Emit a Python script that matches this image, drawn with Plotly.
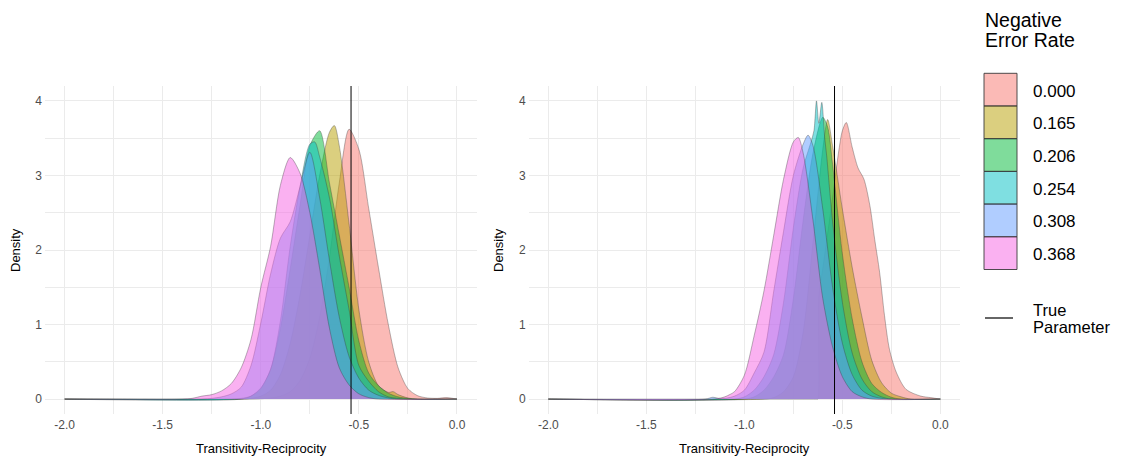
import plotly.graph_objects as go

# ---------------- data ----------------
RATES = ["0.000", "0.165", "0.206", "0.254", "0.308", "0.368"]
COLORS = ["#F8766D", "#B79F00", "#00BA38", "#00BFC4", "#619CFF", "#F564E3"]
TRUE_PARAM = -0.54
X_TICKS = [-2.0, -1.5, -1.0, -0.5, 0.0]
X_TICK_LABELS = ["-2.0", "-1.5", "-1.0", "-0.5", "0.0"]
Y_TICKS = [0, 1, 2, 3, 4]
Y_TICK_LABELS = ["0", "1", "2", "3", "4"]
X_TITLE = "Transitivity-Reciprocity"
Y_TITLE = "Density"

# left panel densities
left_x_000 = [-2.0, -1.05, -1.0, -0.95, -0.9, -0.85, -0.8, -0.75, -0.7, -0.65, -0.6, -0.55, -0.5, -0.45, -0.4, -0.35, -0.3, -0.25, -0.2, -0.15, -0.1, -0.05, 0.0]
left_d_000 = [0, 0, 0.005, 0.015, 0.04, 0.1, 0.25, 0.55, 1.1, 1.9, 2.9, 3.62, 3.35, 2.56, 1.76, 1.0, 0.42, 0.14, 0.045, 0.015, 0.01, 0.02, 0]
left_x_165 = [-2.0, -1.1, -1.05, -1.0, -0.95, -0.9, -0.85, -0.8, -0.75, -0.7, -0.65, -0.625, -0.6, -0.55, -0.5, -0.45, -0.4, -0.35, -0.325, -0.3, -0.25, -0.2, 0.0]
left_d_165 = [0, 0, 0.01, 0.04, 0.12, 0.33, 0.75, 1.4, 2.2, 3.0, 3.58, 3.67, 3.4, 2.35, 1.2, 0.5, 0.18, 0.09, 0.1, 0.06, 0.015, 0, 0]
left_x_206 = [-2.0, -1.15, -1.1, -1.05, -1.0, -0.95, -0.9, -0.85, -0.8, -0.75, -0.7, -0.65, -0.6, -0.55, -0.5, -0.45, -0.4, -0.35, -0.3, -0.25, -0.2, 0.0]
left_d_206 = [0, 0, 0.01, 0.04, 0.14, 0.4, 0.95, 1.75, 2.6, 3.4, 3.6, 2.9, 2.2, 1.5, 0.78, 0.35, 0.18, 0.08, 0.03, 0.01, 0, 0]
left_x_254 = [-2.0, -1.1, -1.05, -1.0, -0.95, -0.9, -0.85, -0.8, -0.75, -0.725, -0.7, -0.65, -0.6, -0.55, -0.5, -0.45, -0.4, -0.35, -0.3, -0.25, 0.0]
left_d_254 = [0, 0, 0.04, 0.15, 0.4, 1.05, 2.05, 2.85, 3.42, 3.45, 3.25, 2.7, 1.92, 1.2, 0.45, 0.24, 0.1, 0.03, 0.01, 0, 0]
left_x_308 = [-2.0, -1.3, -1.25, -1.2, -1.15, -1.1, -1.05, -1.0, -0.95, -0.9, -0.85, -0.8, -0.75, -0.7, -0.65, -0.6, -0.55, -0.5, -0.45, -0.4, -0.35, -0.3, 0.0]
left_d_308 = [0, 0, 0.01, 0.03, 0.07, 0.16, 0.45, 1.02, 1.68, 2.16, 2.38, 2.85, 3.31, 2.7, 1.86, 1.1, 0.57, 0.28, 0.12, 0.05, 0.015, 0, 0]
left_x_368 = [-2.0, -1.4, -1.35, -1.3, -1.25, -1.2, -1.15, -1.1, -1.05, -1.0, -0.95, -0.9, -0.85, -0.8, -0.75, -0.7, -0.65, -0.6, -0.55, -0.5, -0.45, -0.4, 0.0]
left_d_368 = [0, 0, 0.01, 0.04, 0.06, 0.11, 0.21, 0.42, 0.8, 1.5, 2.05, 2.87, 3.24, 3.03, 2.5, 1.75, 0.95, 0.42, 0.19, 0.07, 0.02, 0, 0]

# right panel densities
right_x_000 = [-2.0, -0.7, -0.66, -0.64, -0.63, -0.625, -0.62, -0.6, -0.55, -0.52, -0.5, -0.48, -0.45, -0.42, -0.39, -0.36, -0.335, -0.31, -0.285, -0.26, -0.225, -0.175, -0.1, -0.05, 0.0]
right_d_000 = [0, 0, 0, 0, 0, 0, 1.38, 1.75, 2.7, 3.3, 3.6, 3.71, 3.38, 3.1, 2.95, 2.6, 2.14, 1.7, 1.12, 0.67, 0.36, 0.13, 0.04, 0.02, 0]
right_x_165 = [-2.0, -0.9, -0.85, -0.8, -0.75, -0.7, -0.65, -0.6, -0.575, -0.55, -0.5, -0.45, -0.4, -0.35, -0.3, -0.25, -0.2, -0.15, 0.0]
right_d_165 = [0, 0, 0.02, 0.1, 0.3, 0.9, 2.1, 3.35, 3.75, 3.4, 2.55, 1.77, 1.1, 0.52, 0.22, 0.08, 0.03, 0, 0]
right_x_206 = [-2.0, -1.0, -0.95, -0.9, -0.85, -0.8, -0.75, -0.7, -0.65, -0.6, -0.575, -0.55, -0.5, -0.45, -0.4, -0.35, -0.3, -0.25, -0.2, 0.0]
right_d_206 = [0, 0, 0.03, 0.12, 0.3, 0.6, 1.35, 2.4, 3.3, 3.78, 3.65, 3.15, 1.95, 1.08, 0.5, 0.21, 0.09, 0.025, 0, 0]
right_x_254 = [-2.0, -1.05, -1.0, -0.95, -0.9, -0.85, -0.8, -0.75, -0.7, -0.66, -0.645, -0.632, -0.62, -0.605, -0.59, -0.58, -0.55, -0.5, -0.45, -0.4, -0.35, -0.3, -0.25, 0.0]
right_d_254 = [0, 0, 0.03, 0.12, 0.3, 0.6, 1.3, 2.3, 3.1, 3.45, 3.6, 4.0, 3.7, 3.98, 3.5, 3.26, 2.38, 1.3, 0.62, 0.27, 0.1, 0.03, 0, 0]
right_x_308 = [-2.0, -1.2, -1.16, -1.13, -1.1, -1.05, -1.0, -0.95, -0.9, -0.85, -0.8, -0.75, -0.7, -0.675, -0.65, -0.6, -0.55, -0.5, -0.45, -0.4, -0.35, -0.3, -0.25, 0.0]
right_d_308 = [0, 0, 0.025, 0.01, 0.01, 0.04, 0.12, 0.35, 0.63, 1.45, 2.25, 3.0, 3.42, 3.54, 3.4, 2.55, 1.5, 0.75, 0.33, 0.12, 0.04, 0.01, 0, 0]
right_x_368 = [-2.0, -1.15, -1.1, -1.075, -1.05, -1.0, -0.95, -0.9, -0.85, -0.8, -0.75, -0.725, -0.7, -0.65, -0.6, -0.55, -0.5, -0.45, -0.4, -0.35, 0.0]
right_d_368 = [0, 0, 0.03, 0.06, 0.1, 0.32, 0.85, 1.45, 2.2, 2.95, 3.45, 3.51, 3.3, 2.4, 1.35, 0.7, 0.3, 0.1, 0.03, 0, 0]

left_series = [(left_x_000, left_d_000), (left_x_165, left_d_165), (left_x_206, left_d_206),
               (left_x_254, left_d_254), (left_x_308, left_d_308), (left_x_368, left_d_368)]
right_series = [(right_x_000, right_d_000), (right_x_165, right_d_165), (right_x_206, right_d_206),
                (right_x_254, right_d_254), (right_x_308, right_d_308), (right_x_368, right_d_368)]

# ---------------- layout geometry (pixels) ----------------
W, H = 1126, 461
ML, MR, MT, MB = 45, 166, 86, 47
PW, PH = W - ML - MR, H - MT - MB


def px_x(p):
    return (p - ML) / PW


def px_y(p):
    return (H - MB - p) / PH


def rgba(hexc, a):
    h = hexc.lstrip("#")
    r, g, b = int(h[0:2], 16), int(h[2:4], 16), int(h[4:6], 16)
    return f"rgba({r},{g},{b},{a})"


FONT = "Liberation Sans, Arial, sans-serif"
fig = go.Figure()

for (xa, ya, series) in [("x", "y", left_series), ("x2", "y2", right_series)]:
    for i, (xs, ds) in enumerate(series):
        fig.add_trace(go.Scatter(
            x=xs, y=ds, xaxis=xa, yaxis=ya, mode="lines",
            line=dict(shape="spline", smoothing=0.8, color="rgba(60,60,60,0.45)", width=0.8),
            fill="tozeroy", fillcolor=rgba(COLORS[i], 0.5),
            hoverinfo="skip", showlegend=False, name=RATES[i]))

axis_common = dict(
    showgrid=True, gridcolor="#EBEBEB", gridwidth=1.1,
    zeroline=False, showline=False, ticks="",
    tickfont=dict(size=12, color="#4D4D4D", family=FONT),
    fixedrange=True,
)
x_common = dict(axis_common, range=[-2.1, 0.1], tickmode="array", tickvals=X_TICKS, ticktext=X_TICK_LABELS,
                minor=dict(tickmode="array", tickvals=[-1.75, -1.25, -0.75, -0.25], showgrid=True,
                           gridcolor="#EBEBEB", gridwidth=0.6, ticks=""),
                ticklabelstandoff=2)
y_common = dict(axis_common, range=[-0.2, 4.2], tickmode="array", tickvals=Y_TICKS, ticktext=Y_TICK_LABELS,
                minor=dict(tickmode="array", tickvals=[0.5, 1.5, 2.5, 3.5], showgrid=True,
                           gridcolor="#EBEBEB", gridwidth=0.6, ticks=""),
                ticklabelstandoff=2)

fig.update_layout(
    width=W, height=H,
    margin=dict(l=ML, r=MR, t=MT, b=MB, pad=0),
    paper_bgcolor="white", plot_bgcolor="white",
    showlegend=False,
    font=dict(family=FONT),
    xaxis=dict(x_common, domain=[0, px_x(476.6)], anchor="y"),
    yaxis=dict(y_common, domain=[0, 1], anchor="x"),
    xaxis2=dict(x_common, domain=[px_x(528.7), 1], anchor="y2"),
    yaxis2=dict(y_common, domain=[0, 1], anchor="x2"),
)

shapes = []
# true parameter lines
for xr, yr in [("x", "y domain"), ("x2", "y2 domain")]:
    shapes.append(dict(type="line", xref=xr, yref=yr, x0=TRUE_PARAM, x1=TRUE_PARAM, y0=0, y1=1,
                       line=dict(color="black", width=1)))

annotations = []
# axis titles
for cx in [261.5, 744]:
    annotations.append(dict(text=X_TITLE, xref="paper", yref="paper", x=px_x(cx), y=px_y(448),
                            xanchor="center", yanchor="middle", showarrow=False,
                            font=dict(size=13, color="black", family=FONT)))
for cx in [15, 498]:
    annotations.append(dict(text=Y_TITLE, xref="paper", yref="paper", x=px_x(cx), y=px_y(250),
                            xanchor="center", yanchor="middle", showarrow=False, textangle=-90,
                            font=dict(size=13, color="black", family=FONT)))

# legend (drawn manually)
annotations.append(dict(text="Negative", xref="paper", yref="paper", x=px_x(983), y=px_y(20),
                        xanchor="left", yanchor="middle", showarrow=False,
                        font=dict(size=19.5, color="black", family=FONT)))
annotations.append(dict(text="Error Rate", xref="paper", yref="paper", x=px_x(983), y=px_y(40),
                        xanchor="left", yanchor="middle", showarrow=False,
                        font=dict(size=19.5, color="black", family=FONT)))
key_top, key_h = 73.3, 32.7
for i, lab in enumerate(RATES):
    t = key_top + i * key_h
    shapes.append(dict(type="rect", xref="paper", yref="paper",
                       x0=px_x(984), x1=px_x(1017), y0=px_y(t + key_h), y1=px_y(t),
                       fillcolor=rgba(COLORS[i], 0.5), line=dict(color="#3a3a3a", width=0.9)))
    annotations.append(dict(text=lab, xref="paper", yref="paper", x=px_x(1031), y=px_y(t + key_h / 2 + 1.5),
                            xanchor="left", yanchor="middle", showarrow=False,
                            font=dict(size=17, color="black", family=FONT)))
shapes.append(dict(type="line", xref="paper", yref="paper", x0=px_x(985), x1=px_x(1013),
                   y0=px_y(318), y1=px_y(318), line=dict(color="black", width=1.2)))
annotations.append(dict(text="True", xref="paper", yref="paper", x=px_x(1031), y=px_y(309.5),
                        xanchor="left", yanchor="middle", showarrow=False,
                        font=dict(size=16.5, color="black", family=FONT)))
annotations.append(dict(text="Parameter", xref="paper", yref="paper", x=px_x(1031), y=px_y(326.5),
                        xanchor="left", yanchor="middle", showarrow=False,
                        font=dict(size=16.5, color="black", family=FONT)))

fig.update_layout(shapes=shapes, annotations=annotations)
fig.write_html("out.html", config={"displayModeBar": False},
               post_script="document.body.style.margin='0';document.body.style.overflow='hidden';")
